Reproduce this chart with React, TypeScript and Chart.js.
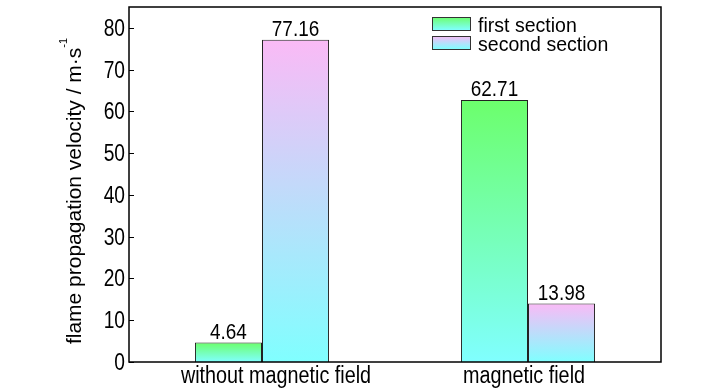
import React, { useEffect, useRef } from "react";
import { Chart, registerables } from "chart.js";

Chart.register(...registerables);

const categories = ["without magnetic field", "magnetic field"];
const firstSection = [4.64, 62.71];
const secondSection = [77.16, 13.98];
const seriesNames = ["first section", "second section"];
const yTicks = [0, 10, 20, 30, 40, 50, 60, 70, 80];
const yTitle = "flame propagation velocity / m·s";
const yTitleSup = "-1";

const FONT = "'Liberation Sans', Arial, sans-serif";
const CYAN = "#80ffff";
const GREEN = "#6cff6c";
const PINK = "#fabaf6";
const topColors = [GREEN, PINK];
const xLabelShift = [14, -4];

function gradFor(ctx: any, top: string) {
  const chart = ctx.chart;
  const area = chart.chartArea;
  if (!area || ctx.type !== "data") return top;
  const y = chart.scales.y;
  const v = ctx.raw as number;
  const y0 = y.getPixelForValue(0);
  const y1 = y.getPixelForValue(v);
  const g = chart.ctx.createLinearGradient(0, y1, 0, y0);
  g.addColorStop(0, top);
  g.addColorStop(1, CYAN);
  return g;
}

function narrowText(ctx: any, text: string, x: number, y: number, size: number, sx: number, align: string, baseline: string) {
  ctx.save();
  ctx.translate(x, y);
  ctx.scale(sx, 1);
  ctx.font = `${size}px ${FONT}`;
  ctx.textAlign = align;
  ctx.textBaseline = baseline;
  ctx.fillText(text, 0, 0);
  ctx.restore();
}

const overlay = {
  id: "overlay",
  afterDatasetsDraw(chart: any) {
    const { ctx, chartArea: a, scales } = chart;
    const y = scales.y;
    const x = scales.x;
    ctx.save();
    // frame
    ctx.strokeStyle = "#000";
    ctx.lineWidth = 1.5;
    ctx.strokeRect(a.left, a.top, a.right - a.left, a.bottom - a.top);
    // inward ticks + labels
    ctx.lineWidth = 1;
    ctx.fillStyle = "#000";
    yTicks.forEach((t) => {
      const py = Math.round(y.getPixelForValue(t)) + 0.5;
      ctx.beginPath();
      ctx.moveTo(a.left, py);
      ctx.lineTo(a.left + 5, py);
      ctx.stroke();
      narrowText(ctx, String(t), a.left - 4, py + 1, 24, 0.8, "right", "middle");
    });
    // x labels
    categories.forEach((c, i) => {
      narrowText(ctx, c, x.getPixelForValue(i) + xLabelShift[i], a.bottom + 21, 23, 0.86, "center", "alphabetic");
    });
    // value labels
    chart.data.datasets.forEach((ds: any, di: number) => {
      const meta = chart.getDatasetMeta(di);
      meta.data.forEach((bar: any, i: number) => {
        narrowText(ctx, ds.data[i].toFixed(2), bar.x, bar.y - 4, 22, 0.86, "center", "alphabetic");
      });
    });
    // legend
    const lx = 432, bw = 38, bh = 13;
    const rows = [17, 36];
    rows.forEach((ry, k) => {
      const g = ctx.createLinearGradient(0, ry, 0, ry + bh);
      g.addColorStop(0, topColors[k]);
      g.addColorStop(1, CYAN);
      ctx.fillStyle = g;
      ctx.fillRect(lx, ry, bw, bh);
      ctx.strokeStyle = "#333";
      ctx.lineWidth = 1;
      ctx.strokeRect(lx + 0.5, ry + 0.5, bw, bh);
      ctx.fillStyle = "#000";
      narrowText(ctx, seriesNames[k], lx + 46, ry + bh + 2, 21, 0.93, "left", "alphabetic");
    });
    // y title
    ctx.save();
    ctx.translate(81, 191);
    ctx.rotate(-Math.PI / 2);
    ctx.font = `21px ${FONT}`;
    const w1 = ctx.measureText(yTitle).width;
    ctx.font = `11px ${FONT}`;
    const w2 = ctx.measureText(yTitleSup).width;
    const total = w1 + w2;
    narrowText(ctx, yTitle, -total / 2, 0, 21, 1, "left", "alphabetic");
    narrowText(ctx, yTitleSup, -total / 2 + w1, -14, 11, 1, "left", "alphabetic");
    ctx.restore();
    ctx.restore();
  },
};

export default function App() {
  const ref = useRef<HTMLCanvasElement>(null);
  useEffect(() => {
    if (!ref.current) return;
    const chart = new Chart(ref.current, {
      type: "bar",
      data: {
        labels: categories,
        datasets: [
          {
            label: seriesNames[0],
            data: firstSection,
            backgroundColor: (c: any) => gradFor(c, GREEN),
            borderColor: "#222",
            borderWidth: 1,
          },
          {
            label: seriesNames[1],
            data: secondSection,
            backgroundColor: (c: any) => gradFor(c, PINK),
            borderColor: "#222",
            borderWidth: 1,
          },
        ],
      },
      options: {
        animation: false,
        responsive: false,
        maintainAspectRatio: false,
        layout: { padding: { top: 7, right: 67, left: 0, bottom: 0 } },
        plugins: { legend: { display: false }, tooltip: { enabled: false } },
        datasets: { bar: { barPercentage: 1, categoryPercentage: 0.504 } },
        scales: {
          x: {
            grid: { display: false, drawTicks: false },
            border: { display: false },
            ticks: { display: false },
            afterFit: (s: any) => { s.height = 28; },
          },
          y: {
            min: 0,
            max: 85,
            grid: { display: false, drawTicks: false },
            border: { display: false },
            ticks: { display: false },
            afterFit: (s: any) => { s.width = 129; },
          },
        },
      },
      plugins: [overlay],
    });
    return () => chart.destroy();
  }, []);
  return (
    <div style={{ position: "fixed", left: 0, top: 0, width: 728, height: 390, background: "#fff" }}>
      <canvas ref={ref} width={728} height={390} />
    </div>
  );
}
